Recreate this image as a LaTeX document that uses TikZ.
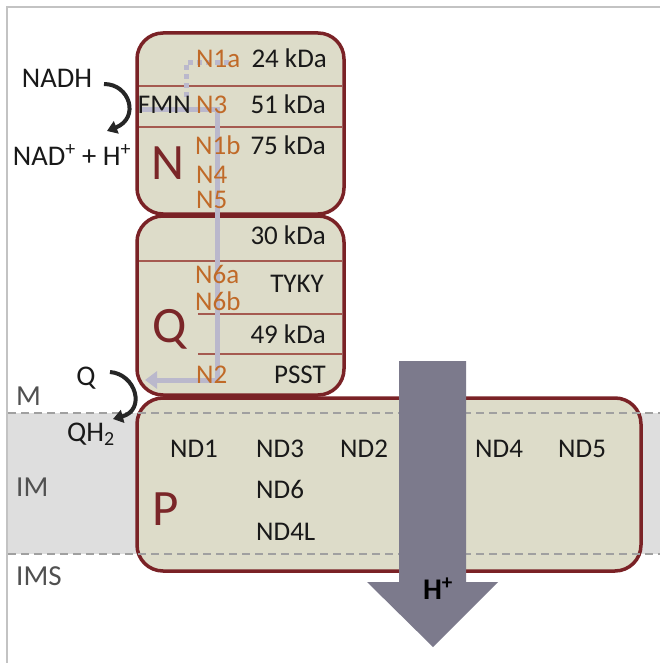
\documentclass[tikz,border=0pt]{standalone}
\usepackage{fontspec}
\setmainfont{Carlito}
\usetikzlibrary{arrows.meta}
\definecolor{boxfill}{RGB}{221,220,201}
\definecolor{boxborder}{RGB}{122,34,38}
\definecolor{sepline}{RGB}{165,90,80}
\definecolor{fecol}{RGB}{192,106,40}
\definecolor{pathgray}{RGB}{186,184,204}
\definecolor{hgray}{RGB}{124,122,140}
\definecolor{memgray}{RGB}{222,222,222}
\definecolor{lblgray}{RGB}{80,80,80}
\definecolor{bigred}{RGB}{122,38,40}
\definecolor{framegray}{RGB}{195,195,195}
\definecolor{dashgray}{RGB}{160,160,160}
\definecolor{txtblack}{RGB}{25,25,25}
\begin{document}
\begin{tikzpicture}[x=1pt,y=-1pt,
  subbox/.style={draw=boxborder, fill=boxfill, line width=3.5pt, rounded corners=26pt},
  txt/.style={inner sep=0pt, font=\fontsize{27}{31}\selectfont, text=txtblack},
  sidetxt/.style={inner sep=0pt, font=\fontsize{28.5}{32}\selectfont, text=txtblack},
  fe/.style={txt, text=fecol, anchor=base west},
  kda/.style={txt, anchor=base east},
  nd/.style={txt, anchor=base west},
  big/.style={inner sep=0pt, font=\fontsize{51}{56}\selectfont, text=bigred, anchor=base},
  side/.style={inner sep=0pt, font=\fontsize{29}{32}\selectfont, text=lblgray, anchor=base west},
  sep/.style={draw=sepline, line width=1.3pt},
  memdash/.style={draw=dashgray, line width=1.3pt, dash pattern=on 8pt off 5pt},
  redox/.style={draw=black!85, line width=4pt, -{Triangle[length=10pt,width=13pt]}},
  fepath/.style={draw=pathgray, line width=5pt}
]
\useasboundingbox (0,0) rectangle (660,663);
\fill[white] (0,0) rectangle (660,663);
\draw[framegray, line width=1.2pt] (7,663) -- (7,7) -- (660,7);
% membrane band
\fill[memgray] (8,413) rectangle (660,554);
% subcomplex boxes
\draw[subbox] (137,398) rectangle (641,571);
\draw[subbox] (137,216) rectangle (344,395);
\draw[subbox] (137,33) rectangle (344,214);
\draw[memdash] (8,413) -- (660,413);
\draw[memdash] (8,554) -- (660,554);
% separators
\draw[sep] (139,86) -- (342,86);
\draw[sep] (139,127) -- (342,127);
\draw[sep] (139,261) -- (342,261);
\draw[sep] (198,314) -- (342,314);
\draw[sep] (198,354) -- (342,354);
% electron path
\draw[fepath, dash pattern=on 5pt off 4pt] (186,97) -- (186,63) -- (232,63);
\draw[fepath, -{Triangle[length=12pt,width=17pt]}] (140,110) -- (217,110) -- (217,380) -- (145,380);
% big letters
\node[big] (bigN) at (168,179) {N};
\node[big] (bigQ) at (170,342) {Q};
\node[big] (bigP) at (166,525) {P};
% N module
\node[fe] (n1a) at (196,68) {N1a};
\node[kda] (k24) at (327,68) {24 kDa};
\node[txt, anchor=base east] (fmn) at (191,114) {FMN};
\node[fe] (n3) at (196,114) {N3};
\node[kda] (k51) at (326,114) {51 kDa};
\node[fe] (n1b) at (195,155) {N1b};
\node[kda] (k75) at (326,155) {75 kDa};
\node[fe] (n4) at (196,183) {N4};
\node[fe] (n5) at (196,208) {N5};
% Q module
\node[kda] (k30) at (326,244) {30 kDa};
\node[fe] (n6a) at (195,283) {N6a};
\node[kda] (tyky) at (324,292) {TYKY};
\node[fe] (n6b) at (195,310) {N6b};
\node[kda] (k49) at (326,343) {49 kDa};
\node[fe] (n2) at (196,383) {N2};
\node[kda] (psst) at (326,383) {PSST};
% P module
\node[nd] (nd1) at (170,457) {ND1};
\node[nd] (nd3) at (256,457) {ND3};
\node[nd] (nd2) at (340,457) {ND2};
\node[nd] (nd4) at (475,457) {ND4};
\node[nd] (nd5) at (558,457) {ND5};
\node[nd] (nd6) at (256,498) {ND6};
\node[nd] (nd4l) at (256,540) {ND4L};
% side labels
\node[sidetxt, anchor=base] (nadh) at (57,88) {NADH};
\node[sidetxt, anchor=base] (nad) at (72,165) {NAD\textsuperscript{+} + H\textsuperscript{+}};
\node[sidetxt, anchor=base] (q) at (86,385) {Q};
\node[sidetxt, anchor=base west] (qh2) at (67,441) {QH\textsubscript{2}};
\node[side] (lm) at (16,405) {M};
\node[side] (lim) at (16,496) {IM};
\node[side] (lims) at (16,585) {IMS};
% redox arrows
\coordinate (nadhS) at (104,84);
\coordinate (nadE) at (107,131);
\draw[redox] (nadhS) .. controls (130,84) and (140,118) .. (nadE);
\coordinate (qS) at (110,372);
\coordinate (qE) at (113,419);
\draw[redox] (qS) .. controls (136,374) and (146,410) .. (qE);
% proton arrow
\fill[hgray] (399,361) -- (466,361) -- (466,582) -- (498,582) -- (433,647) -- (367,582) -- (399,582) -- cycle;
\node[inner sep=0pt, font=\fontsize{30}{34}\selectfont\bfseries, anchor=base] (hplus) at (438,599) {H\textsuperscript{+}};
\end{tikzpicture}
\end{document}
